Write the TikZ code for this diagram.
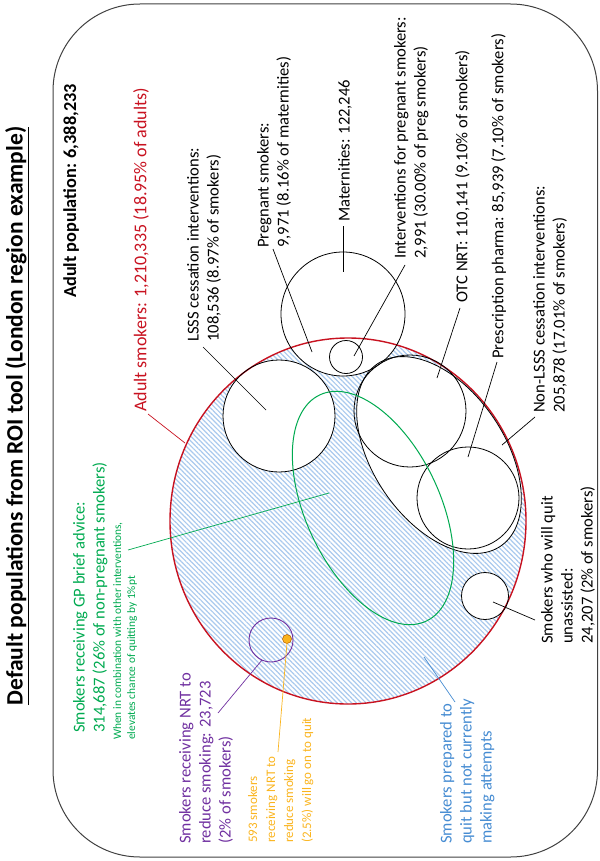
\documentclass[tikz,border=0pt]{standalone}
\usepackage{fontspec}
\setmainfont{Carlito}
\usetikzlibrary{patterns.meta}
\definecolor{myred}{RGB}{200,18,32}
\definecolor{mygreen}{RGB}{0,170,80}
\definecolor{mypurple}{RGB}{112,48,160}
\definecolor{myorange}{RGB}{250,180,30}
\definecolor{myblue}{RGB}{70,140,210}
\definecolor{hatchblue}{RGB}{170,202,238}

\tikzset{
lbl/.style={rotate=90, anchor=north west, inner sep=0pt, align=left, font=\fontsize{16.6}{20}\selectfont},
lead/.style={line width=0.7pt},
ring/.style={draw=black, line width=0.8pt}
}

\begin{document}
\begin{tikzpicture}[x=1pt,y=-1pt]
\useasboundingbox (0,0) rectangle (599,861);

\coordinate (smk) at (348,521);
\coordinate (lsss) at (279,416);
\coordinate (mat) at (343,314);
\coordinate (preg) at (346,357);
\coordinate (otc) at (410,411);
\coordinate (rx) at (468,498);
\coordinate (nonl) at (439,455);
\coordinate (unas) at (485,596);
\coordinate (gp) at (373,508);
\coordinate (nrt) at (271,640);
\coordinate (quit) at (287,639);

% frame
\draw[black!75, line width=1pt, rounded corners=87pt] (53,4) rectangle (597.5,857);

% smokers, hatched
\fill[white] (smk) ellipse [x radius=178, y radius=183];
\path[pattern={Lines[angle=-45,distance=3.4pt,line width=1.2pt]}, pattern color=hatchblue] (smk) ellipse [x radius=178, y radius=183];

\fill[white] (lsss) circle (56) (mat) circle (62) (unas) circle (23.5);
\fill[white, rotate around={-56:(nonl)}] (nonl) ellipse [x radius=110, y radius=66];

\draw[myred, line width=1.4pt] (smk) ellipse [x radius=178, y radius=183];

\draw[ring] (lsss) circle (56);
\draw[ring] (mat) circle (62);
\draw[ring] (preg) circle (16.5);
\draw[ring, rotate around={-56:(nonl)}] (nonl) ellipse [x radius=110, y radius=66];
\draw[ring] (otc) circle (56);
\draw[ring] (rx) circle (51);
\draw[ring] (unas) circle (23.5);

\draw[mygreen, line width=1pt, rotate around={-64.8:(gp)}] (gp) ellipse [x radius=125, y radius=67];
\draw[mypurple, line width=0.9pt] (nrt) circle (22);
\draw[fill=myorange, draw=orange!70!black, line width=0.5pt] (quit) circle (4.5);

% texts
\node[lbl, anchor=center, font=\bfseries\fontsize{23.5}{28}\selectfont] (title) at (17,416) {\underline{Default populations from ROI tool (London region example)}};
\node[lbl, font=\bfseries\fontsize{18.3}{22}\selectfont] (adpop) at (63,298) {Adult population: 6,388,233};
\node[lbl, myred, font=\fontsize{18}{22}\selectfont] (adsmk) at (133,412) {Adult smokers: 1,210,335 (18.95\% of adults)};
\node[lbl] (lssslbl) at (187,342) {LSSS cessation interventions:\\108,536 (8.97\% of smokers)};
\node[lbl] (preglbl) at (257,248) {Pregnant smokers:\\9,971 (8.16\% of maternities)};
\node[lbl] (matlbl) at (338,222) {Maternities: 122,246};
\node[lbl] (intlbl) at (394,259) {Interventions for pregnant smokers:\\2,991 (30.00\% of preg smokers)};
\node[lbl] (otclbl) at (455,303) {OTC NRT: 110,141 (9.10\% of smokers)};
\node[lbl] (rxlbl) at (491,359) {Prescription pharma: 85,939 (7.10\% of smokers)};
\node[lbl] (nonllbl) at (533,413) {Non-LSSS cessation interventions:\\205,878 (17.01\% of smokers)};
\node[lbl] (unaslbl) at (541,644) {Smokers who will quit\\unassisted:\\24,207 (2\% of smokers)};
\node[lbl, myblue] (preplbl) at (440,844) {Smokers prepared to\\quit but not currently\\making attempts};
\node[lbl, mygreen] (gplbl) at (73,733) {Smokers receiving GP brief advice:\\314,687 (26\% of non-pregnant smokers)};
\node[lbl, mygreen, font=\fontsize{11.4}{14}\selectfont] (gpnote) at (113,740) {When in combination with other interventions,\\elevates chance of quitting by 1\%pt};
\node[lbl, mypurple] (nrtlbl) at (179,844) {Smokers receiving NRT to\\reduce smoking: 23,723\\(2\% of smokers)};
\node[lbl, myorange, font=\fontsize{13}{18}\selectfont] (quitlbl) at (248,843) {593 smokers\\receiving NRT to\\reduce smoking\\(2.5\%) will go on to quit};

% leaders
\coordinate (adsmk-a) at (148,414); \coordinate (adsmk-b) at (185,443);
\coordinate (lsss-a) at (203,347); \coordinate (lsss-b) at (266,410);
\coordinate (preg-a) at (273,249); \coordinate (preg-b) at (312,352);
\coordinate (mat-a) at (343,226); \coordinate (mat-b) at (343,272);
\coordinate (int-a) at (405,265); \coordinate (int-b) at (354,356);
\coordinate (otc-a) at (460,308); \coordinate (otc-b) at (437,378);
\coordinate (rx-a) at (497,362); \coordinate (rx-b) at (468,457);
\coordinate (nonl-a) at (535,417); \coordinate (nonl-b) at (502,445);
\coordinate (unas-a) at (535,620); \coordinate (unas-b) at (493,602);
\coordinate (prep-a) at (455,702); \coordinate (prep-b) at (424,657);
\coordinate (gp-a) at (128,550); \coordinate (gp-b) at (329,493);
\coordinate (nrt-a) at (218,713); \coordinate (nrt-b) at (262,660);
\coordinate (quit-a) at (278,752); \coordinate (quit-b) at (287,643);

\draw[lead, myred] (adsmk-a) -- (adsmk-b);
\draw[lead] (lsss-a) -- (lsss-b);
\draw[lead] (preg-a) -- (preg-b);
\draw[lead] (mat-a) -- (mat-b);
\draw[lead] (int-a) -- (int-b);
\draw[lead] (otc-a) -- (otc-b);
\draw[lead] (rx-a) -- (rx-b);
\draw[lead] (nonl-a) -- (nonl-b);
\draw[lead] (unas-a) -- (unas-b);
\draw[lead, myblue] (prep-a) -- (prep-b);
\draw[lead, mygreen] (gp-a) -- (gp-b);
\draw[lead, mypurple] (nrt-a) -- (nrt-b);
\draw[lead, myorange] (quit-a) -- (quit-b);

\end{tikzpicture}
\end{document}
